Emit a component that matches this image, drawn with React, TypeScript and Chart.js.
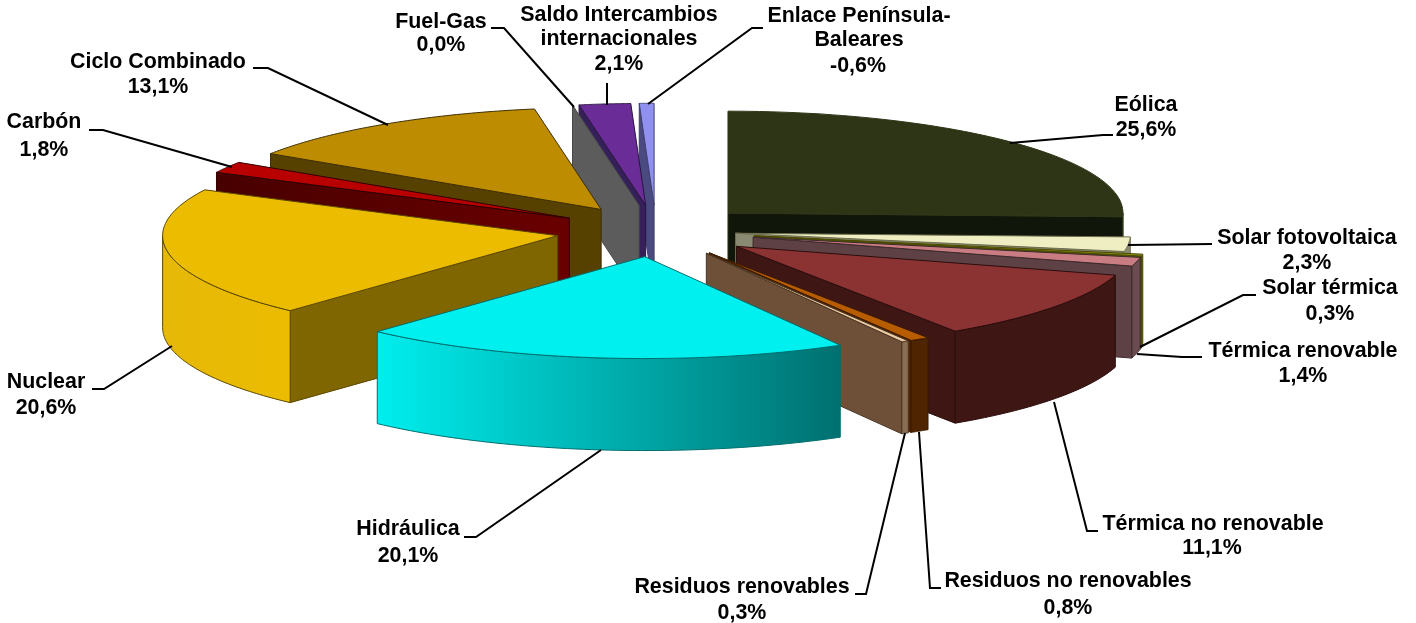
import React, { useEffect, useRef } from "react";
import { Chart, registerables } from "chart.js";

Chart.register(...registerables);

// ---- data ----
const categories = [
  "Eólica",
  "Solar fotovoltaica",
  "Solar térmica",
  "Térmica renovable",
  "Térmica no renovable",
  "Residuos no renovables",
  "Residuos renovables",
  "Hidráulica",
  "Nuclear",
  "Carbón",
  "Ciclo Combinado",
  "Fuel-Gas",
  "Saldo Intercambios internacionales",
  "Enlace Península-Baleares",
];
const shares = [25.6, 2.3, 0.3, 1.4, 11.1, 0.8, 0.3, 20.1, 20.6, 1.8, 13.1, 0.0, 2.1, -0.6];

// ---- styles ----
const topColors = ["#2D3516", "#EEEEC2", "#8C8C12", "#C97C82", "#8B3232", "#B85C00", "#E8C9A2", "#00F0F0", "#ECBC00", "#B80000", "#BE8C00", "#5C5C5C", "#6A2C96", "#9090F0"];
const cutColors = [
  ["#10160A", "#10160A"], ["#8A8A72", "#8A8A72"], ["#5A5A10", "#5A5A10"], ["#5E4145", "#5E4145"], ["#3E1614", "#3E1614"],
  ["#4F2400", "#4F2400"], ["#6E5038", "#6E5038"], ["#00A0A0", "#00A0A0"], ["#806600", "#806600"], ["#480000", "#6A0000"],
  ["#574100", "#574100"], ["#5C5C5C", "#5C5C5C"], ["#36205A", "#36205A"], ["#4A4A80", "#4A4A80"],
];
const wallColors = [
  ["#2D3516", "#2D3516"], ["#8A8A72", "#8A8A72"], ["#5A5A10", "#5A5A10"], ["#6A4C50", "#6A4C50"], ["#3E1614", "#3E1614"],
  ["#4F2400", "#4F2400"], ["#8A6E52", "#8A6E52"], ["#00EEEE", "#007070"], ["#E6B808", "#EBBC00"], ["#480000", "#480000"],
  ["#574100", "#574100"], ["#5C5C5C", "#5C5C5C"], ["#36205A", "#36205A"], ["#4A4A80", "#4A4A80"],
];
const edgeColors = ["#2D3516", "#6E6E50", "#4A4A00", "#3C2A2C", "#2A0E0C", "#3A1A00", "#4A3524", "#006E6E", "#5A4800", "#300000", "#3E2E00", "#484848", "#28143E", "#40406E"];
const explode = [100, 80, 100, 100, 100, 100, 100, 100, 100, 100, 100, 100, 100, 100];
const drawOrder = [0, 1, 2, 3, 4, 5, 6, 13, 12, 11, 10, 9, 8, 7];
const RADIUS = 395;
const SQUASH = 0.258;
const DEPTH = 92;

// ---- label layout: [line, x, y] per category ----
const labelLines: [string, number, number][][] = [
  [["Eólica", 1146, 105]],
  [["Solar fotovoltaica", 1307, 238]],
  [["Solar térmica", 1330, 288]],
  [["Térmica renovable", 1303, 351]],
  [["Térmica no renovable", 1213, 524]],
  [["Residuos no renovables", 1068, 581]],
  [["Residuos renovables", 742, 587]],
  [["Hidráulica", 408, 529]],
  [["Nuclear", 46, 382]],
  [["Carbón", 44, 122]],
  [["Ciclo Combinado", 158, 62]],
  [["Fuel-Gas", 441, 22]],
  [["Saldo Intercambios", 619, 15], ["internacionales", 619, 39]],
  [["Enlace Península-", 859, 16], ["Baleares", 859, 40]],
];
const percentAnchors: [number, number][] = [
  [1146, 130], [1307, 263], [1330, 314], [1303, 376], [1212, 548], [1068, 608], [742, 613],
  [408, 556], [46, 408], [44, 150], [158, 87], [441, 45], [619, 64], [858, 66],
];
const leaders: [number, number][][] = [
  [[1113, 135], [1103, 135], [1010, 143]],
  [[1212, 244], [1128, 245]],
  [[1256, 295], [1243, 295], [1140, 347]],
  [[1202, 357], [1182, 357], [1137, 354]],
  [[1098, 531], [1087, 531], [1054, 402]],
  [[941, 588], [930, 588], [919, 432]],
  [[855, 594], [866, 594], [905, 433]],
  [[464, 537], [476, 537], [601, 450]],
  [[92, 389], [104, 389], [172, 346]],
  [[89, 130], [103, 130], [232, 167]],
  [[253, 68], [268, 68], [388, 125]],
  [[491, 28], [504, 28], [574, 107]],
  [[607, 83], [607, 105]],
  [[763, 28], [752, 28], [648, 104]],
];

function formatShare(v: number) {
  return v.toFixed(1).replace(".", ",") + "%";
}

function wallFill(ctx: CanvasRenderingContext2D, x0: number, x1: number, pair: string[]) {
  if (pair[0] === pair[1] || Math.abs(x1 - x0) < 1) return pair[0];
  const g = ctx.createLinearGradient(Math.min(x0, x1), 0, Math.max(x0, x1), 0);
  g.addColorStop(0, pair[0]);
  g.addColorStop(1, pair[1]);
  return g;
}

const pie3d = {
  id: "pie3d",
  beforeDatasetDraw() {
    return false;
  },
  afterDatasetsDraw(chart: any) {
    const ctx: CanvasRenderingContext2D = chart.ctx;
    const arcs = chart.getDatasetMeta(0).data;
    drawOrder.forEach((i) => {
      const arc = arcs[i];
      const s = arc.startAngle;
      const e = arc.endAngle;
      const r = arc.outerRadius;
      const mid = (s + e) / 2;
      const ox = explode[i] * Math.cos(mid);
      const oy = explode[i] * Math.sin(mid);
      const ax = arc.x + ox;
      const ay = arc.y + oy * SQUASH;
      const px = (a: number) => ax + r * Math.cos(a);
      const py = (a: number) => ay + r * Math.sin(a) * SQUASH;

      ctx.lineWidth = 1;
      ctx.lineJoin = "round";
      ctx.strokeStyle = edgeColors[i];

      const cutFace = (a: number) => {
        ctx.beginPath();
        ctx.moveTo(ax, ay);
        ctx.lineTo(px(a), py(a));
        ctx.lineTo(px(a), py(a) + DEPTH);
        ctx.lineTo(ax, ay + DEPTH);
        ctx.closePath();
        ctx.fillStyle = wallFill(ctx, ax, px(a), cutColors[i]);
        ctx.fill();
        ctx.stroke();
      };
      if (Math.cos(s) < -1e-6) cutFace(s);
      if (Math.cos(e) > 1e-6) cutFace(e);

      const lo = Math.max(s, 0);
      const hi = Math.min(e, Math.PI);
      if (hi > lo) {
        const n = 60;
        ctx.beginPath();
        for (let k = 0; k <= n; k++) {
          const a = lo + ((hi - lo) * k) / n;
          if (k === 0) ctx.moveTo(px(a), py(a));
          else ctx.lineTo(px(a), py(a));
        }
        for (let k = n; k >= 0; k--) {
          const a = lo + ((hi - lo) * k) / n;
          ctx.lineTo(px(a), py(a) + DEPTH);
        }
        ctx.closePath();
        ctx.fillStyle = wallFill(ctx, px(lo), px(hi), wallColors[i]);
        ctx.fill();
        ctx.stroke();
      }

      // top face: the library's own arc element, squashed into an ellipse
      ctx.save();
      ctx.translate(ox, arc.y + oy * SQUASH);
      ctx.scale(1, SQUASH);
      ctx.translate(0, -arc.y);
      arc.draw(ctx);
      ctx.restore();

      if (e > s) {
        ctx.beginPath();
        ctx.moveTo(ax, ay);
        const n = 60;
        for (let k = 0; k <= n; k++) {
          const a = s + ((e - s) * k) / n;
          ctx.lineTo(px(a), py(a));
        }
        ctx.closePath();
        ctx.stroke();
      }
    });

    // leaders
    ctx.strokeStyle = "#000000";
    ctx.lineWidth = 2;
    ctx.lineJoin = "miter";
    leaders.forEach((pts) => {
      ctx.beginPath();
      pts.forEach(([x, y], k) => (k ? ctx.lineTo(x, y) : ctx.moveTo(x, y)));
      ctx.stroke();
    });

    // labels
    ctx.fillStyle = "#000000";
    ctx.font = 'bold 21.4px "Liberation Sans", Arial, sans-serif';
    ctx.textAlign = "center";
    ctx.textBaseline = "middle";
    labelLines.forEach((lines, i) => {
      lines.forEach(([t, x, y]) => ctx.fillText(t, x, y));
      const [x, y] = percentAnchors[i];
      ctx.fillText(formatShare(shares[i]), x, y);
    });
  },
};

export default function App() {
  const ref = useRef<HTMLCanvasElement | null>(null);
  useEffect(() => {
    const chart = new Chart(ref.current as HTMLCanvasElement, {
      type: "pie",
      data: {
        labels: categories,
        datasets: [
          {
            data: shares,
            backgroundColor: topColors,
            borderWidth: 0,
            radius: RADIUS,
          } as any,
        ],
      },
      options: {
        responsive: false,
        animation: false,
        layout: { padding: { left: 0, top: 0, right: 104, bottom: 161 } },
        plugins: { legend: { display: false }, tooltip: { enabled: false } },
      },
      plugins: [pie3d],
    } as any);
    return () => chart.destroy();
  }, []);
  return (
    <div style={{ position: "fixed", left: 0, top: 0, width: 1416, height: 623, background: "#fff" }}>
      <canvas ref={ref} width={1416} height={623} style={{ display: "block" }} />
    </div>
  );
}
